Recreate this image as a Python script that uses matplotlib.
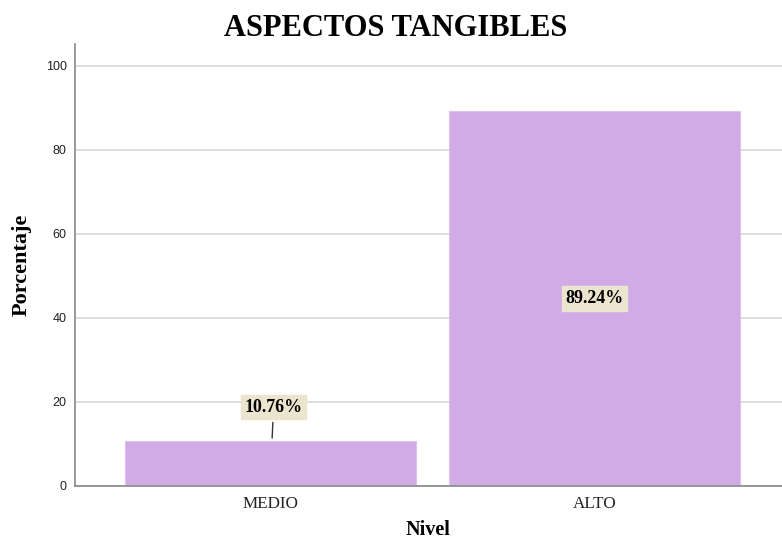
import numpy as np
import matplotlib.pyplot as plt

niveles = ['MEDIO', 'ALTO']
porcentajes = [10.76, 89.24]
etiquetas = ['10.76%', '89.24%']
yticks = [0, 20, 40, 60, 80, 100]

fig = plt.figure(figsize=(7.82, 5.44), dpi=100)
ax = fig.add_axes([75/782, 58/544, 707/782, 442/544])

x = np.arange(len(niveles))
ax.bar(x, porcentajes, width=0.898, color='#d1abe5', edgecolor='#dcc2ec', linewidth=0.8, zorder=2)

ax.set_xlim(-0.603, 1.579)
ax.set_ylim(0, 105.2)
ax.set_yticks(yticks)
ax.set_yticklabels([str(t) for t in yticks], family='Liberation Sans', fontsize=9, color='#222222')
ax.set_xticks(x)
ax.set_xticklabels(niveles, family='Liberation Serif', fontsize=12.3, color='#222222')
ax.tick_params(axis='both', length=0, pad=6)
ax.tick_params(axis='x', pad=7)
ax.yaxis.grid(True, color='#d9d9d9', linewidth=1.2, zorder=0)
ax.set_axisbelow(True)

for s in ['top', 'right']:
    ax.spines[s].set_visible(False)
ax.spines['left'].set_color('#888888')
ax.spines['bottom'].set_color('#888888')
ax.spines['left'].set_linewidth(1.2)
ax.spines['bottom'].set_linewidth(1.2)

caja = dict(boxstyle='square,pad=0.2', fc='#ebe5d0', ec='#ebe5d0')
# etiqueta de MEDIO arriba con linea guia
ax.annotate(etiquetas[0], xy=(x[0] + 0.005, porcentajes[0]), xytext=(x[0] + 0.01, 18.8),
            ha='center', va='center', family='Liberation Serif', fontsize=12.9, fontweight='bold',
            bbox=caja, arrowprops=dict(arrowstyle='-', color='#333333', lw=1), zorder=5)
# etiqueta de ALTO dentro de la barra
ax.text(x[1], porcentajes[1] / 2, etiquetas[1], ha='center', va='center',
        family='Liberation Serif', fontsize=12.9, fontweight='bold', bbox=caja, zorder=5)

ax.set_xlabel('Nivel', family='Liberation Serif', fontsize=14.5, fontweight='bold', labelpad=6)
ax.set_ylabel('Porcentaje', family='Liberation Serif', fontsize=16, fontweight='bold', labelpad=10)
fig.text(396/782, 1 - 28/544, 'ASPECTOS TANGIBLES', ha='center', va='center',
         family='Liberation Serif', fontsize=22, fontweight='bold')

fig.savefig('out.png', dpi=100)
